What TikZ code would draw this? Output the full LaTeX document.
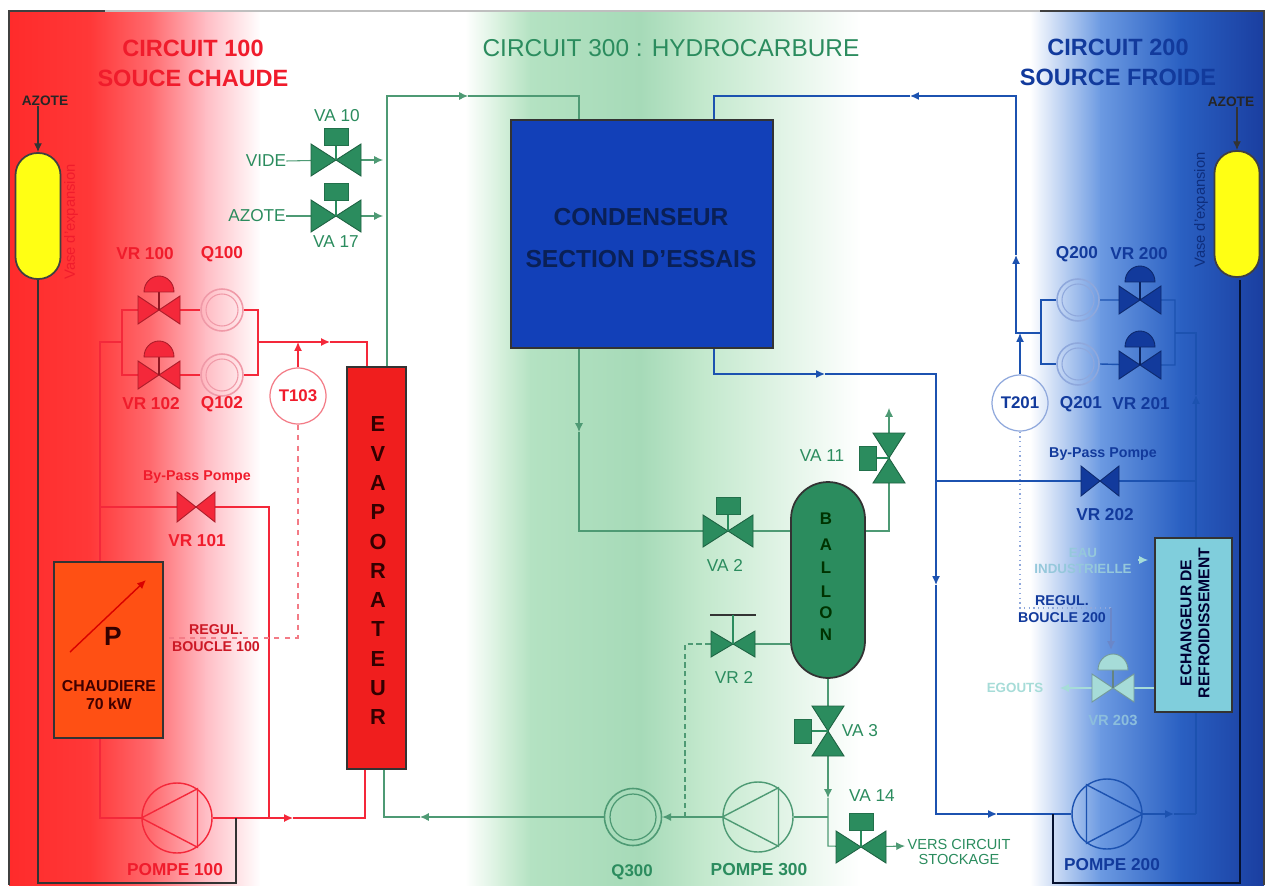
\documentclass[tikz,border=0pt]{standalone}
\usepackage{fontspec}
\setmainfont{Liberation Sans}
\usepackage{tikz}
\usetikzlibrary{arrows.meta, backgrounds}

% couleurs des trois circuits
\definecolor{rouge}{HTML}{F01C2C}
\definecolor{rougeb}{HTML}{F4283A}
\definecolor{rose}{HTML}{F09AA8}
\definecolor{vert}{HTML}{2B8C5E}
\definecolor{vertl}{HTML}{4E9A74}
\definecolor{bleu}{HTML}{123A9C}
\definecolor{bleul}{HTML}{1C52B0}
\definecolor{bleuq}{HTML}{8FA8DC}
\definecolor{pale}{HTML}{A6DCD8}
\definecolor{jaune}{HTML}{FFFF14}
\definecolor{orangef}{HTML}{FF5014}
\definecolor{rougef}{HTML}{F01E1E}
\definecolor{bleuf}{HTML}{1240B8}
\definecolor{cyanf}{HTML}{80CEDC}

% bandes du fond
\definecolor{f0}{HTML}{FF2B2B}
\definecolor{f1}{HTML}{FF3838}
\definecolor{f2}{HTML}{FF6A6E}
\definecolor{f3}{HTML}{FFBCC4}
\definecolor{f4}{HTML}{FFFFFF}
\definecolor{f5}{HTML}{D6F0DC}
\definecolor{f6}{HTML}{B4E2C2}
\definecolor{f7}{HTML}{A6DAB8}
\definecolor{f8}{HTML}{C2E8CC}
\definecolor{f9}{HTML}{6C9AE2}
\definecolor{f10}{HTML}{2A60C2}
\definecolor{f11}{HTML}{1A3EA0}

\tikzset{
  txt/.style={inner sep=0pt, align=center, font=\fontsize{9.8}{9.8}\selectfont},
  txtb/.style={txt, font=\bfseries\fontsize{9.8}{9.8}\selectfont},
  titre/.style={inner sep=0pt, align=center, font=\bfseries\fontsize{13.4}{17}\selectfont},
  pompe/.style={circle, draw=#1, line width=0.8pt, minimum size=1.4cm, inner sep=0pt},
  debit/.style={circle, draw=#1, line width=0.9pt, minimum size=0.84cm, inner sep=0pt},
  temp/.style={circle, draw=#1, line width=0.7pt, minimum size=1.12cm, inner sep=0pt},
  reserve/.style={draw=black!75, line width=1pt, fill=jaune, rounded corners=0.44cm, minimum width=0.9cm, minimum height=2.52cm, inner sep=0pt},
  boitier/.style={fill=vert, draw=vert!80!black, line width=0.3pt, minimum width=0.48cm, minimum height=0.33cm, inner sep=0pt},
  lr/.style={draw=rougeb, line width=0.75pt},
  lv/.style={draw=vertl, line width=0.6pt},
  lb/.style={draw=bleul, line width=0.8pt},
  fl/.style={-{Latex[length=5pt,width=4.5pt]}}
}

\begin{document}
\begin{tikzpicture}[x=0.02cm, y=-0.02cm]
  \useasboundingbox (0,0) rectangle (1267,888);

  % Fond
  \begin{scope}[on background layer]
    \fill[white] (0,0) rectangle (1267,888);
    \foreach \a/\b/\p/\q in {9/90/f0/f1, 90/150/f1/f2, 150/205/f2/f3, 205/260/f3/f4, 260/465/f4/f4, 465/500/f4/f5, 500/530/f5/f6, 530/640/f6/f7, 640/700/f7/f8, 700/860/f8/f4, 860/1030/f4/f4, 1030/1100/f4/f9, 1100/1180/f9/f10, 1180/1263/f10/f11} {
      \shade[left color=\p, right color=\q] (\a,11) rectangle (\b+1,885);
    }
    \draw[black!25, line width=1.2pt] (105,11) -- (1040,11);
    \draw[black!75, line width=1.2pt] (9,885) -- (9,11) -- (105,11);
    \draw[black!75, line width=1.2pt] (1040,11) -- (1264,11) -- (1264,885);
  \end{scope}

  % Titres
  \node[titre, text=rouge] (t100) at (193,63) {CIRCUIT 100\\SOUCE CHAUDE};
  \node[titre, text=vert, font=\fontsize{13.9}{17}\selectfont] (t300) at (671,48) {CIRCUIT 300 : HYDROCARBURE};
  \node[titre, text=bleu] (t200) at (1118,62) {CIRCUIT 200\\SOURCE FROIDE};

  % Appareils
  \node[reserve] (tankg) at (38,216) {};
  \node[reserve] (tankd) at (1237,214) {};
  \node[draw=black!80, line width=0.9pt, fill=bleuf, minimum width=5.24cm, minimum height=4.56cm, inner sep=0pt] (cond) at (642,234) {};
  \node[draw=black!80, line width=1pt, fill=rougef, minimum width=1.18cm, minimum height=8.04cm, inner sep=0pt] (evap) at (376.5,568) {};
  \node[draw=black!80, line width=1pt, fill=vert, rounded corners=0.74cm, minimum width=1.48cm, minimum height=3.92cm, inner sep=0pt] (ballon) at (828,580) {};
  \node[draw=black!80, line width=1pt, fill=orangef, minimum width=2.18cm, minimum height=3.52cm, inner sep=0pt] (chaud) at (108.5,650) {};
  \node[draw=black!80, line width=1pt, fill=cyanf, minimum width=1.54cm, minimum height=3.48cm, inner sep=0pt] (ech) at (1193.5,625) {};

  \node[pompe=rougeb] (p100) at (177,818) {};
  \node[pompe=vertl] (p300) at (758,817) {};
  \node[pompe=bleul] (p200) at (1107,814) {};
  \draw[rougeb, line width=0.8pt] (p100.west) -- (p100.55) -- (p100.-55) -- cycle;
  \draw[vertl, line width=0.8pt] (p300.west) -- (p300.55) -- (p300.-55) -- cycle;
  \draw[bleul, line width=0.8pt] (p200.east) -- (p200.125) -- (p200.-125) -- cycle;

  \node[temp=rose!80!red, text=rouge, font=\bfseries\fontsize{9.6}{10}\selectfont] (t103) at (298,396) {T103};
  \node[temp=bleuq, text=bleu, font=\bfseries\fontsize{9.6}{10}\selectfont] (t201) at (1020,403) {T201};

  % Debitmetres
  \foreach \n/\x/\y/\c in {q100/222/310/rose, q102/222/375/rose, q200/1078/300/bleuq, q201/1078/364/bleuq} {
    \node[debit=\c] (\n) at (\x,\y) {};
    \draw[\c, line width=0.6pt] (\n) circle (16);
  }
  \node[debit=vertl, minimum size=1.14cm] (q300) at (633,817) {};
  \draw[vertl, line width=0.7pt] (q300) circle (23);

  % Points de passage
  \foreach \n/\x/\y in {va10/336/160, va17/336/216, va2/728/531, vr2/733/644, va11/889/458, va3/828/731, va14/861/847, vr100/159/310, vr102/159/375, vr101/196/507, vr200/1140/300, vr201/1140/365, vr202/1100/481, vr203/1113/688,
    c1/100/342, c2/100/507, c3/269/507, g1/122/310, g2/122/375, g3/122/342, d1/258/310, d2/258/375, d3/258/342, a1/330/342, c4/367/342, a2/293/818, c7/365/818, c5/163/638, c8/236/883, c9/236/818, c10/38/883,
    c11/387/96, a3/468/96, c12/579/96, c13/383/160, c14/383/216, a4/579/432, c15/685/817, c16/889/408, a5/828/798, c17/828/817, c18/828/846, c19/905/846, a6/420/817, c20/384/817,
    c21/714/96, a7/910/96, c22/1016/333, a8/1016/255, c23/714/374, a9/825/374, c24/936/374, a10/936/585, c25/936/814, a11/997/814, a12/1174/814, c26/1196/814, a13/1196/395, c27/1196/333, c28/1175/333, c29/1041/333,
    g4/1041/300, g5/1041/364, d4/1175/300, d5/1175/365, c30/1020/333, c31/1020/608, c32/1111/608, a14/1111/650, c33/936/481, c34/1196/481, c35/1240/883, c36/1053/883, c37/1053/814, c38/1240/280, c39/1148/560, c40/1138/560, c41/1060/688,
    fch1/70/652, fch2/146/580} {
    \coordinate (\n) at (\x,\y);
  }

  % Vannes horizontales
  \foreach \n/\c/\w/\h in {va10/vert/25/16, va17/vert/25/16, va2/vert/25/16, va14/vert/25/16, vr2/vert/22/13, vr100/rougeb/21/14, vr102/rougeb/21/14, vr101/rougeb/19/15, vr200/bleu/21/14, vr201/bleu/21/14, vr202/bleu/19/15, vr203/pale/21/14} {
    \filldraw[fill=\c, draw=\c!70!black, line width=0.5pt] (\n) -- ++(-\w,-\h) -- ++(0,2*\h) -- cycle (\n) -- ++(\w,-\h) -- ++(0,2*\h) -- cycle;
  }
  % Vannes verticales
  \foreach \n/\b/\x/\y in {va11/bva11/868/458, va3/bva3/803/731} {
    \filldraw[fill=vert, draw=vert!70!black, line width=0.5pt] (\n) -- ++(-16,-25) -- ++(32,0) -- cycle (\n) -- ++(-16,25) -- ++(32,0) -- cycle;
    \node[boitier, minimum width=0.34cm, minimum height=0.48cm] (\b) at (\x,\y) {};
    \draw[vert, line width=0.7pt] (\b) -- (\n);
  }
  % Commandes a boitier
  \foreach \n/\b/\y in {va10/bva10/137, va17/bva17/192, va2/bva2/506, va14/bva14/822} {
    \node[boitier] (\b) at (\n |- 0,\y) {};
    \draw[vert, line width=0.7pt] (\b) -- (\n);
  }
  % Commandes a membrane
  \foreach \n/\c in {vr100/rougeb, vr102/rougeb, vr200/bleu, vr201/bleu, vr203/pale} {
    \draw[\c!60!black, line width=0.7pt] (\n) -- ++(0,-20);
    \filldraw[fill=\c, draw=\c!70!black, line width=0.5pt] (\n) ++(-15,-18) -- ++(30,0) arc[start angle=0, end angle=-180, x radius=15, y radius=16] -- cycle;
  }
  % Volant de VR 2
  \draw[black!80, line width=1pt] (vr2) ++(-23,-29) coordinate (vol1) -- ++(46,0);
  \draw[vert, line width=0.7pt] (vr2) -- ++(0,-29);

  % Lettres verticales
  \foreach \l [count=\i] in {E,V,A,P,O,R,A,T,E,U,R} {
    \node[inner sep=0pt, font=\bfseries\fontsize{12.4}{13}\selectfont, text=black!80!red] (ev\i) at (378,395+29.3*\i) {\l};
  }
  \foreach \l/\y [count=\i] in {B/519, A/545, L/568, L/592, O/613, N/635} {
    \node[inner sep=0pt, font=\bfseries\fontsize{9.6}{10}\selectfont, text=black!80!green] (ba\i) at (826,\y) {\l};
  }

  % Textes verts
  \foreach \n/\x/\y/\t in {lva10/337/116/VA 10, lva17/336/242/VA 17, nvide/266/161/VIDE, nazote/257/216/AZOTE, lva2/725/565/VA 2, lvr2/734/677/VR 2, lva11/822/456/VA 11, lva3/860/731/VA 3, lva14/872/796/VA 14} {
    \node[txt, text=vert] (\n) at (\x,\y) {\t};
  }
  \node[txtb, text=vert, font=\bfseries\fontsize{9.6}{10}\selectfont] (lq300) at (632,872) {Q300};
  \node[txtb, text=vert, font=\bfseries\fontsize{9.9}{10}\selectfont] (lp300) at (759,870) {POMPE 300};
  \node[txt, text=vert, font=\fontsize{8.3}{9}\selectfont] (lvers) at (959,852) {VERS CIRCUIT\\STOCKAGE};

  % Textes rouges
  \foreach \n/\x/\y/\t in {lvr100/145/254/VR 100, lq100/222/254/Q100, lvr102/151/404/VR 102, lq102/222/404/Q102, lvr101/197/541/VR 101, lp100/175/870/POMPE 100} {
    \node[txtb, text=rouge] (\n) at (\x,\y) {\t};
  }
  \node[txtb, text=rouge, font=\bfseries\fontsize{8.1}{9.6}\selectfont] (lbp100) at (197,477) {By-Pass Pompe};
  \node[txtb, text=rouge!85!black, font=\bfseries\fontsize{8.1}{9.6}\selectfont] (lreg100) at (216,638) {REGUL.\\BOUCLE 100};
  \node[txtb, text=black!80!red, font=\bfseries\fontsize{15}{16}\selectfont] (lp) at (113,636) {P};
  \node[txtb, text=black!75!red, font=\bfseries\fontsize{9}{10.2}\selectfont] (lch) at (109,695) {CHAUDIERE\\70 kW};

  % Textes bleus
  \foreach \n/\x/\y/\t in {lq200/1077/254/Q200, lvr200/1139/254/VR 200, lq201/1081/404/Q201, lvr201/1141/404/VR 201, lvr202/1105/515/VR 202, lp200/1112/865/POMPE 200} {
    \node[txtb, text=bleu] (\n) at (\x,\y) {\t};
  }
  \node[txtb, text=bleu, font=\bfseries\fontsize{8.1}{9.6}\selectfont] (lbp200) at (1103,454) {By-Pass Pompe};
  \node[txtb, text=bleu, font=\bfseries\fontsize{8.1}{9.6}\selectfont] (lreg200) at (1062,609) {REGUL.\\BOUCLE 200};
  \node[txtb, text=black!80!blue, font=\bfseries\fontsize{8.9}{10.2}\selectfont, rotate=90] (lech) at (1195,623) {ECHANGEUR DE\\REFROIDISSEMENT};
  \node[txtb, text=bleu!55!black, font=\bfseries\fontsize{14}{14}\selectfont] (lcd1) at (641,217) {CONDENSEUR};
  \node[txtb, text=bleu!55!black, font=\bfseries\fontsize{14}{14}\selectfont] (lcd2) at (641,259) {SECTION D'ESSAIS};

  % Textes pales et azote
  \node[txtb, text=pale!70!f9, font=\bfseries\fontsize{7.6}{9.6}\selectfont] (lind) at (1083,561) {EAU\\INDUSTRIELLE};
  \node[txtb, text=pale, font=\bfseries\fontsize{7.6}{9}\selectfont] (legout) at (1015,688) {EGOUTS};
  \node[txtb, text=pale!55!f9, font=\bfseries\fontsize{8.4}{9}\selectfont] (lvr203) at (1113,720) {VR 203};
  \node[txtb, text=black!85, font=\bfseries\fontsize{7.8}{8}\selectfont] (azg) at (45,101) {AZOTE};
  \node[txtb, text=black!85, font=\bfseries\fontsize{7.8}{8}\selectfont] (azd) at (1231,102) {AZOTE};
  \node[txt, text=rouge, font=\fontsize{8.4}{8}\selectfont, rotate=90] (vaseg) at (71,222) {Vase d'expansion};
  \node[txt, text=bleu!80!black, font=\fontsize{8.4}{8}\selectfont, rotate=90] (vased) at (1201,210) {Vase d'expansion};

  % Tuyauteries
  \begin{scope}[on background layer]
    % circuit 100
    \draw[lr] (p100.west) -| (c1) -- (g3);
    \draw[lr] (c2) -- (vr101) -- (c3) -- (c3 |- p100.east);
    \draw[lr] (g3) -- (g1) -- (vr100) -- (q100.west);
    \draw[lr] (q100.east) -- (d1) -- (d2) -- (q102.east);
    \draw[lr] (q102.west) -- (vr102) -- (g2) -- (g3);
    \draw[lr, fl] (d3) -- (a1);
    \draw[lr] (a1) -- (c4) -- (evap.north -| c4);
    \draw[lr, fl] (t103.north) -- (t103.north |- d3);
    \draw[lr, fl] (p100.east) -- (a2);
    \draw[lr] (a2) -- (c7) -- (evap.south -| c7);
    \draw[rose!80!red, line width=0.6pt, dashed] (t103.south) |- (c5);
    % circuit 300
    \draw[lv, fl] (evap.north -| c11) -- (c11) -- (a3);
    \draw[lv] (a3) -- (c12) -- (cond.north -| c12);
    \draw[lv] (nvide.east) -- (va10);
    \draw[lv] (nazote.east) -- (va17);
    \draw[lv, fl] (va10) -- (c13);
    \draw[lv, fl] (va17) -- (c14);
    \draw[lv, fl] (cond.south -| a4) -- (a4);
    \draw[lv] (a4) |- (va2);
    \draw[lv] (va2) -- (ballon.west |- va2);
    \draw[lv] (vr2) -- (ballon.west |- vr2);
    \draw[lv, densely dashed] (c15) |- (vr2);
    \draw[lv] (ballon.east |- va2) -| (va11);
    \draw[lv, fl] (va11) -- (c16);
    \draw[lv] (ballon.south) -- (va3);
    \draw[lv, fl] (va3) -- (a5);
    \draw[lv] (a5) -- (c18) -- (va14);
    \draw[lv, fl] (va14) -- (c19);
    \draw[lv] (p300.east) -- (c17);
    \draw[lv] (p300.west) -- (c15);
    \draw[lv, fl] (c15) -- (q300.east);
    \draw[lv, fl] (q300.west) -- (a6);
    \draw[lv] (a6) -- (c20) -- (evap.south -| c20);
    % circuit 200
    \draw[lb, fl] (c29) -- (c22) -- (a8);
    \draw[lb, fl] (a8) |- (a7);
    \draw[lb] (a7) -- (c21) -- (cond.north -| c21);
    \draw[lb, fl] (cond.south -| c23) -- (c23) -- (a9);
    \draw[lb, fl] (a9) -- (c24) -- (a10);
    \draw[lb, fl] (a10) -- (c25) -- (a11);
    \draw[lb] (a11) -- (p200.west);
    \draw[lb, fl] (p200.east) -- (a12);
    \draw[lb] (a12) -- (c26);
    \draw[lb, fl] (c26) -- (a13);
    \draw[lb] (a13) -- (c27) -- (c28);
    \draw[lb] (c29) -- (g4) -- (q200.west);
    \draw[lb] (q200.east) -- (vr200) -- (d4) -- (d5) -- (vr201) -- (q201.east);
    \draw[lb] (q201.west) -- (g5) -- (c29);
    \draw[lb, fl] (t201.north) -- (c30);
    \draw[bleuq, line width=0.7pt, dotted] (t201.south) -- (c31) -- (c32);
    \draw[bleuq!70!bleu, line width=0.7pt, fl] (c32) -- (a14);
    \draw[lb] (c33) -- (vr202) -- (c34);
    % eau de refroidissement
    \draw[pale, line width=0.6pt, fl] (c40) -- (c39);
    \draw[pale, line width=0.6pt] (vr203) -- (ech.west |- vr203);
    \draw[pale, line width=0.6pt, fl] (vr203) -- (c41);
    % azote
    \draw[black!80, line width=0.7pt, fl] (azg.south -| tankg.north) -- (tankg.north);
    \draw[black!80, line width=0.7pt, fl] (azd.south -| tankd.north) -- (tankd.north);
    \draw[black!80, line width=0.9pt] (tankg.south) -- (c10) -- (c8) -- (c9);
    \draw[black!70!bleu, line width=0.9pt] (c38) -- (c35) -- (c36) -- (c37);
  \end{scope}
  % Fleche de la chaudiere
  \draw[red!85!black, line width=0.8pt, fl] (fch1) -- (fch2);
\end{tikzpicture}
\end{document}
